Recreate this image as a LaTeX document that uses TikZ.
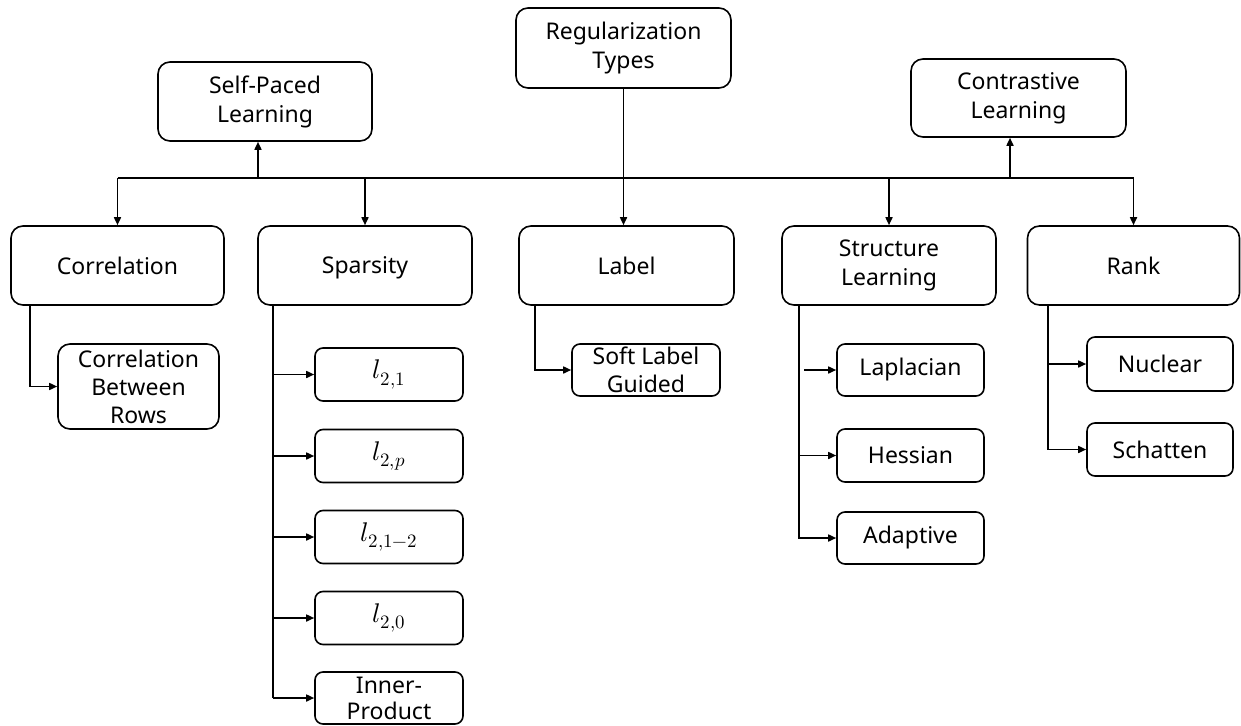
\documentclass[tikz,border=0pt]{standalone}
\usepackage{unicode-math}
\setmainfont{Noto Sans}
\setmathfont{Latin Modern Math}
\usetikzlibrary{arrows.meta}
\tikzset{
  box/.style={draw, line width=1.6pt, rounded corners=12pt, align=center, inner sep=0pt,
    font=\fontsize{23}{29}\selectfont, minimum height=79pt},
  sbox/.style={draw, line width=1.6pt, rounded corners=8pt, align=center, inner sep=0pt,
    font=\fontsize{23}{28}\selectfont, minimum width=148pt, minimum height=53pt},
  mbox/.style={sbox, font=\fontsize{27}{30}\selectfont},
  con/.style={line width=1.6pt},
  arr/.style={line width=1.6pt, -{Triangle[length=8pt,width=7pt]}},
}
\begin{document}
\begin{tikzpicture}[x=1pt,y=-1pt]
\useasboundingbox (0,0) rectangle (1241,725);
% top level
\node[box, minimum width=215pt, minimum height=80pt] (reg) at (623.5,48) {Regularization\\Types};
\node[box, minimum width=214pt] (spl) at (265,101.5) {Self-Paced\\Learning};
\node[box, minimum width=215pt, minimum height=78pt] (cl) at (1018.5,98) {Contrastive\\Learning};
% second level
\node[box, minimum width=213pt] (cor) at (117.5,265.5) {Correlation};
\node[box, minimum width=214pt, text depth=0pt] (spa) at (365,265.5) {Sparsity};
\node[box, minimum width=215pt] (lab) at (626.5,265.5) {Label};
\node[box, minimum width=214pt] (str) at (889,265.5) {Structure\\Learning};
\node[box, minimum width=212pt] (rank) at (1133.5,265.5) {Rank};
% leaves
\node[sbox, minimum width=161pt, minimum height=85pt, rounded corners=12pt] (cbr) at (138.5,386.5) {Correlation\\Between\\Rows};
\node[mbox] (l21) at (389,374.5) {$l_{2,1}$};
\node[mbox] (l2p) at (389,456) {$l_{2,p}$};
\node[mbox] (l212) at (389,537) {$l_{2,1-2}$};
\node[mbox] (l20) at (389,618) {$l_{2,0}$};
\node[sbox, minimum height=52pt, font=\fontsize{23}{26}\selectfont] (inner) at (389,698) {Inner-\\Product};
\node[sbox, minimum height=52pt] (soft) at (646,370) {Soft Label\\Guided};
\node[sbox, minimum width=147pt, minimum height=52pt] (lap) at (910.5,370) {Laplacian};
\node[sbox, minimum width=147pt] (hes) at (910.5,455.5) {Hessian};
\node[sbox, minimum width=147pt, minimum height=52pt] (ada) at (910.5,538) {Adaptive};
\node[sbox, minimum width=146pt, minimum height=54pt] (nuc) at (1160,364) {Nuclear};
\node[sbox, minimum width=146pt] (sch) at (1160,449.5) {Schatten};
% bus
\coordinate (bus) at (0,178);
\coordinate (splA) at (258,178);
\coordinate (clA) at (1010,178);
\draw[con] (cor.north |- bus) -- (rank.north |- bus);
\draw[con] (reg.south) -- (reg.south |- bus);
\draw[arr] (reg.south |- bus) -- (reg.south |- lab.north);
\draw[arr] (cor.north |- bus) -- (cor.north);
\draw[arr] (spa.north |- bus) -- (spa.north);
\draw[arr] (str.north |- bus) -- (str.north);
\draw[arr] (rank.north |- bus) -- (rank.north);
\draw[arr] (splA) -- (splA |- spl.south);
\draw[arr] (clA) -- (clA |- cl.south);
% children connectors
\coordinate (corT) at (30,305);
\draw[arr] (corT) |- (cbr.west);
\coordinate (spaT) at (273,305);
\draw[con] (spaT) -- (spaT |- inner.west);
\foreach \n in {l21,l2p,l212,l20,inner} \draw[arr] (spaT |- \n.west) -- (\n.west);
\coordinate (labT) at (535,305);
\draw[arr] (labT) |- (soft.west);
\coordinate (strT) at (799,305);
\coordinate (lapS) at (804,370);
\draw[arr] (strT) |- (ada.west);
\draw[arr] (lapS) -- (lap.west);
\draw[arr] (strT |- hes.west) -- (hes.west);
\coordinate (rankT) at (1048,305);
\draw[arr] (rankT) |- (sch.west);
\draw[arr] (rankT |- nuc.west) -- (nuc.west);
\end{tikzpicture}
\end{document}
